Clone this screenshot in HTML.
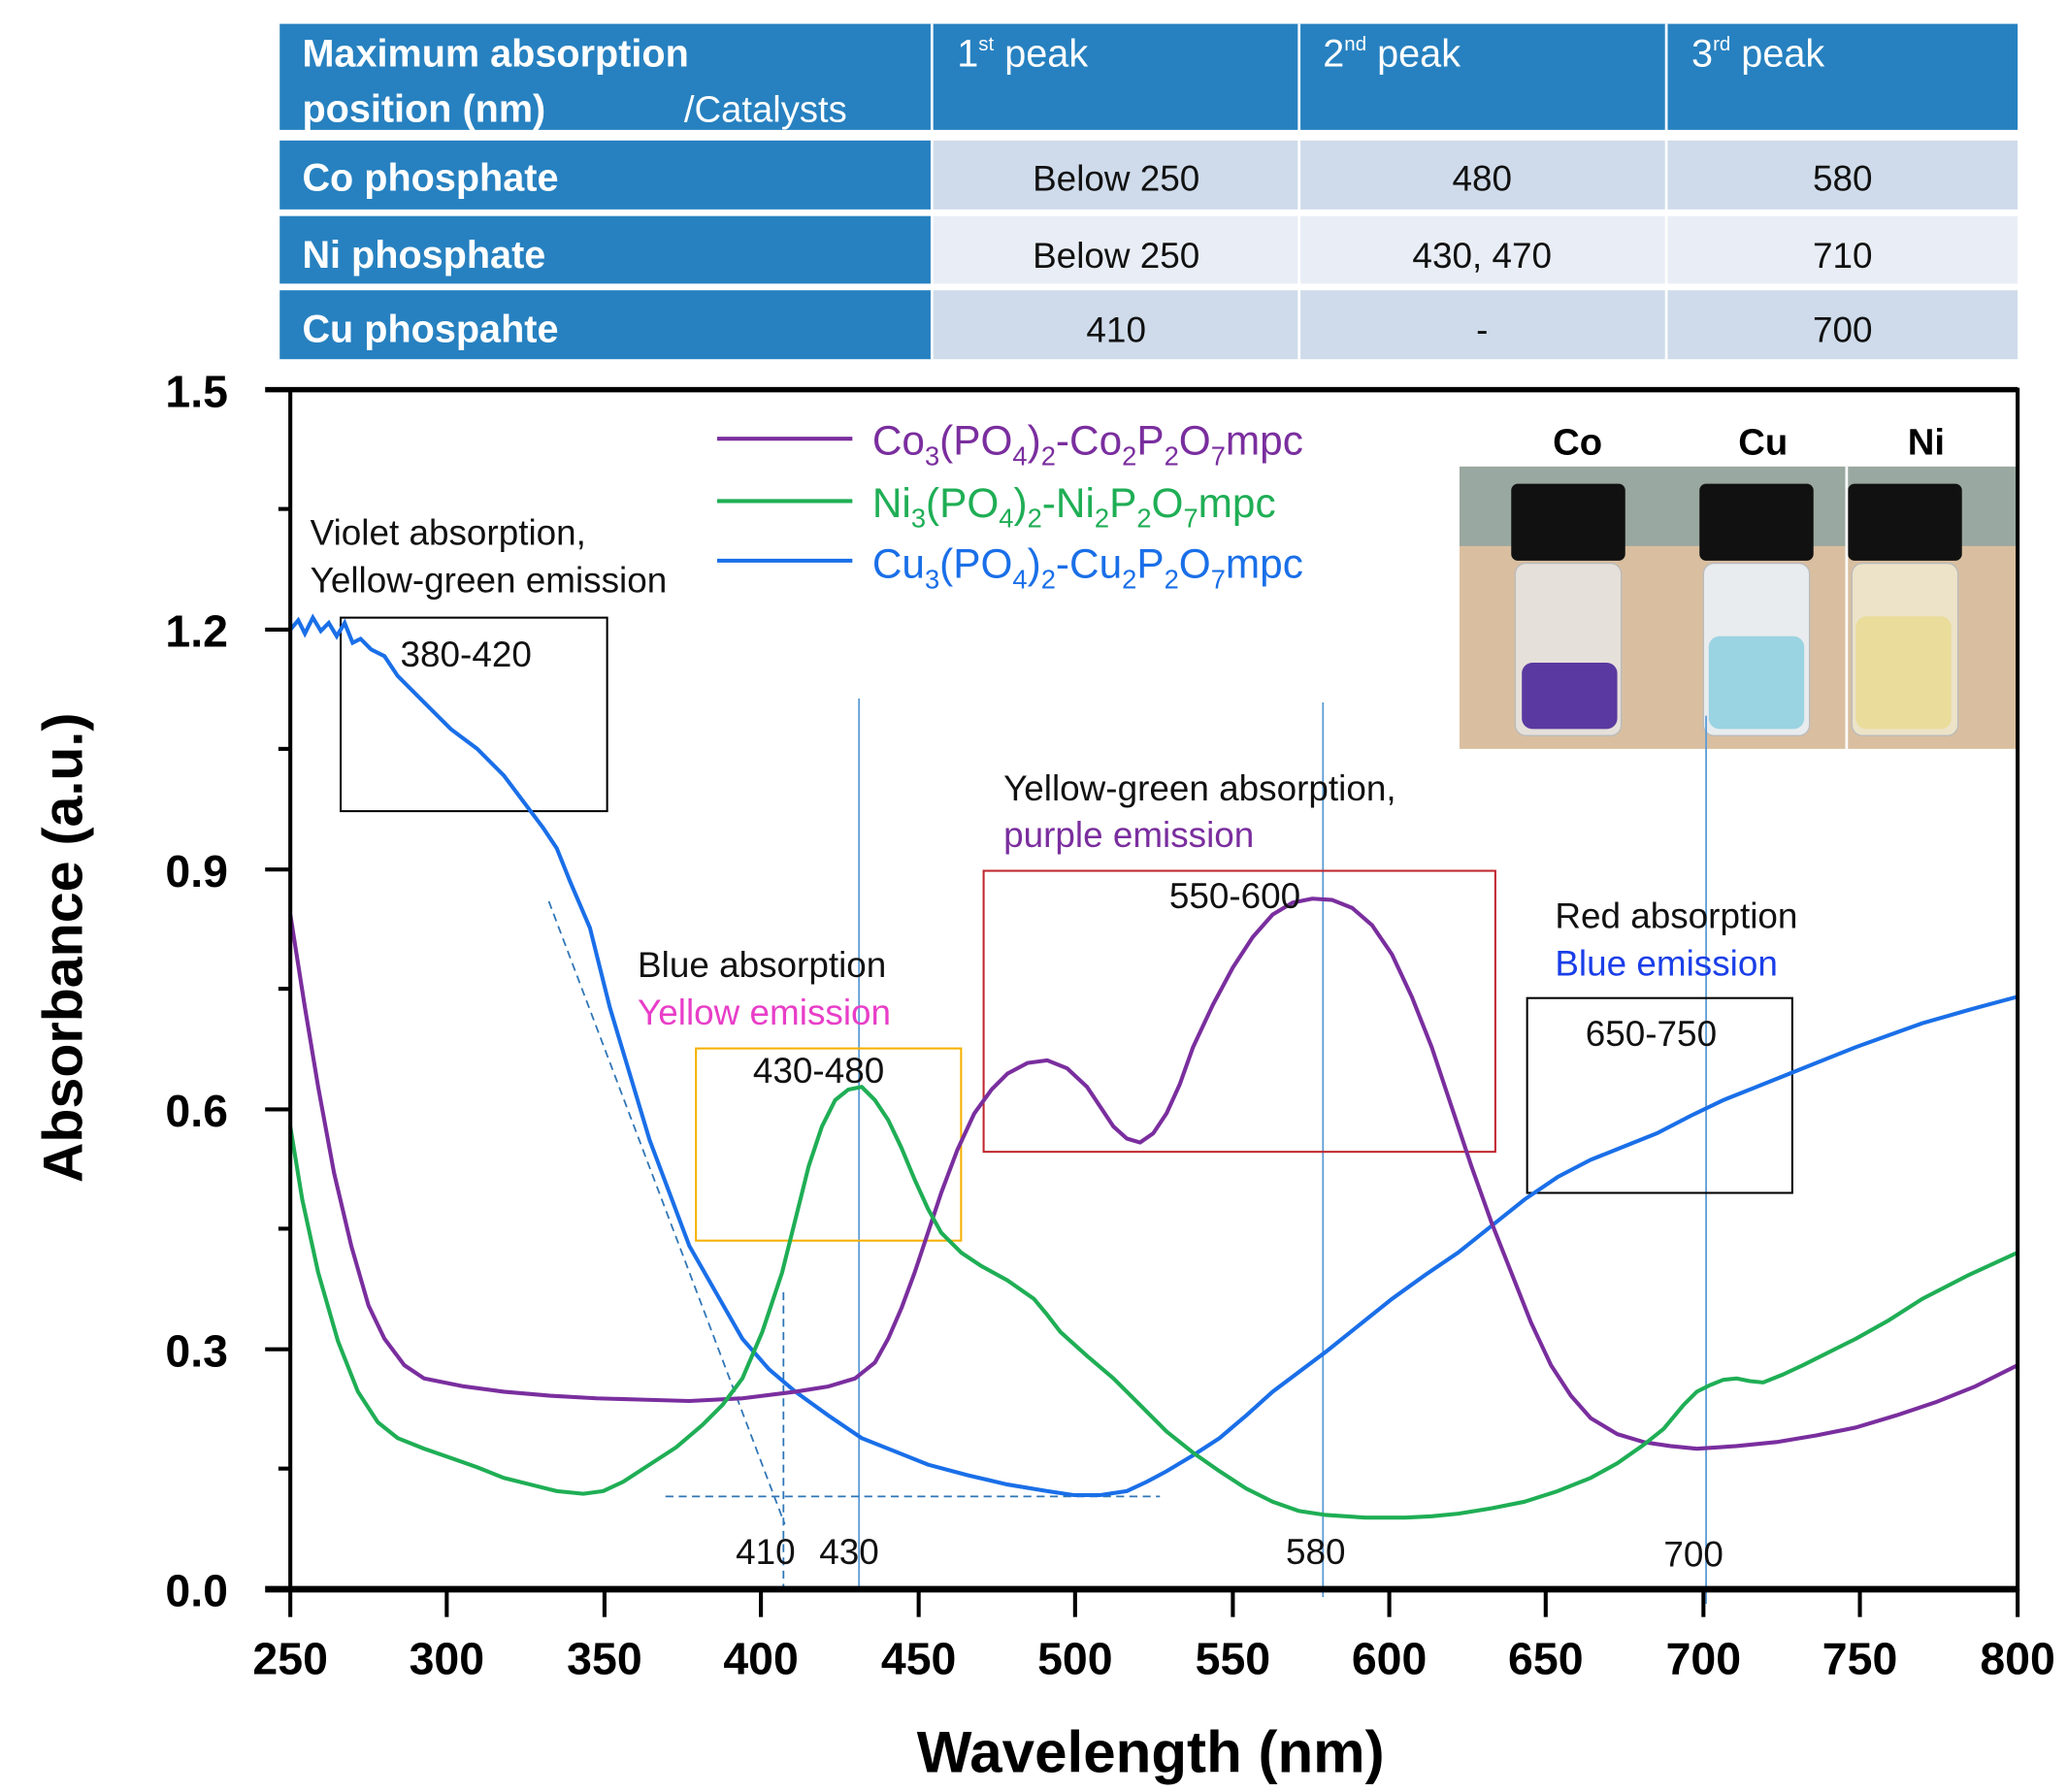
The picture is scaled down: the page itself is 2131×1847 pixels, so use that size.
<!DOCTYPE html>
<html><head><meta charset="utf-8"><style>
html,body{margin:0;padding:0;background:#fff;}
svg{display:block;}
text{font-family:"Liberation Sans",sans-serif;}
</style></head><body>
<svg width="2131" height="1847" viewBox="0 0 1560 1352" preserveAspectRatio="none" xmlns="http://www.w3.org/2000/svg">
<!-- table -->
<rect x="211" y="18" width="1311" height="80" fill="#2781c0"/>
<rect x="211" y="106" width="492" height="52" fill="#2781c0"/>
<rect x="211" y="163" width="492" height="51" fill="#2781c0"/>
<rect x="211" y="219" width="492" height="52" fill="#2781c0"/>
<rect x="703" y="106" width="819" height="52" fill="#cfdbea"/>
<rect x="703" y="163" width="819" height="51" fill="#e9eef6"/>
<rect x="703" y="219" width="819" height="52" fill="#cfdbea"/>
<g stroke="#fff" stroke-width="2"><line x1="703" y1="18" x2="703" y2="271"/><line x1="980" y1="18" x2="980" y2="271"/><line x1="1257" y1="18" x2="1257" y2="271"/></g>
<g fill="#fff" font-weight="bold" font-size="29">
<text x="228" y="50">Maximum absorption</text>
<text x="228" y="92">position (nm)</text><text x="516" y="92" font-weight="normal" font-size="28">/Catalysts</text>
<text x="722" y="50" font-weight="normal">1<tspan font-size="15" dy="-12">st</tspan><tspan dy="12"> peak</tspan></text>
<text x="998" y="50" font-weight="normal">2<tspan font-size="15" dy="-12">nd</tspan><tspan dy="12"> peak</tspan></text>
<text x="1276" y="50" font-weight="normal">3<tspan font-size="15" dy="-12">rd</tspan><tspan dy="12"> peak</tspan></text>
<text x="228" y="144">Co phosphate</text>
<text x="228" y="202">Ni phosphate</text>
<text x="228" y="258">Cu phospahte</text>
</g>
<g fill="#111" font-size="27" text-anchor="middle">
<text x="842" y="144">Below 250</text><text x="1118" y="144">480</text><text x="1390" y="144">580</text>
<text x="842" y="202">Below 250</text><text x="1118" y="202">430, 470</text><text x="1390" y="202">710</text>
<text x="842" y="258">410</text><text x="1118" y="258">-</text><text x="1390" y="258">700</text>
</g>
<!-- photo -->
<rect x="1101" y="352" width="421" height="213" fill="#d9bfa0"/>
<rect x="1101" y="352" width="421" height="60" fill="#6e9aa0" opacity="0.6"/>
<g>
<rect x="1143" y="425" width="80" height="130" rx="8" fill="#e6e0da" stroke="#bbb"/>
<rect x="1140" y="365" width="86" height="58" rx="5" fill="#111"/>
<rect x="1148" y="500" width="72" height="50" rx="8" fill="#5a3aa0"/>
<rect x="1285" y="425" width="80" height="130" rx="8" fill="#e8ecee" stroke="#bbb"/>
<rect x="1282" y="365" width="86" height="58" rx="5" fill="#111"/>
<rect x="1289" y="480" width="72" height="70" rx="8" fill="#9ad3e2"/>
<rect x="1397" y="425" width="80" height="130" rx="8" fill="#ece3c8" stroke="#bbb"/>
<rect x="1394" y="365" width="86" height="58" rx="5" fill="#111"/>
<rect x="1400" y="465" width="72" height="85" rx="8" fill="#eadc9a"/>
<line x1="1393" y1="352" x2="1393" y2="565" stroke="#fff" stroke-width="2"/>
</g>
<g font-weight="bold" font-size="28" fill="#000" text-anchor="middle"><text x="1190" y="343">Co</text><text x="1330" y="343">Cu</text><text x="1453" y="343">Ni</text></g>
<!-- vertical guide lines -->
<g stroke="#5b9bd5" stroke-width="1.3"><line x1="648" y1="527" x2="648" y2="1199"/><line x1="998" y1="530" x2="998" y2="1205"/><line x1="1287" y1="540" x2="1287" y2="1210"/></g>
<g stroke="#2e75b6" stroke-width="1.3" stroke-dasharray="6,4" fill="none"><line x1="591" y1="975" x2="591" y2="1205"/><line x1="502" y1="1129" x2="875" y2="1129"/><line x1="414" y1="680" x2="592" y2="1150"/></g>
<!-- boxes -->
<rect x="257" y="466" width="201" height="146" fill="none" stroke="#000" stroke-width="1.5"/>
<rect x="525" y="791" width="200" height="145" fill="none" stroke="#f5b000" stroke-width="1.5"/>
<rect x="742" y="657" width="386" height="212" fill="none" stroke="#c0262d" stroke-width="1.5"/>
<rect x="1152" y="753" width="200" height="147" fill="none" stroke="#000" stroke-width="1.5"/>
<!-- curves -->
<polyline fill="none" stroke="#1a6fe8" stroke-width="3" points="219,475 225,468 230,478 236,466 242,476 248,470 254,480 260,470 266,485 272,482 280,490 290,495 300,510 320,530 340,550 360,565 380,585 395,605 410,625 420,640 430,665 445,700 460,760 475,810 490,860 505,900 520,940 540,975 560,1010 580,1033 600,1050 625,1068 650,1085 675,1095 700,1105 730,1113 760,1120 790,1125 810,1128 830,1128 850,1125 865,1118 880,1110 900,1098 920,1085 940,1068 960,1050 980,1035 1000,1020 1025,1000 1050,980 1075,962 1100,945 1125,925 1150,905 1175,888 1200,875 1225,865 1250,855 1275,842 1300,830 1325,820 1350,810 1375,800 1400,790 1425,781 1450,772 1485,762 1522,752"/>
<polyline fill="none" stroke="#7a2e9e" stroke-width="3" stroke-linejoin="round" points="219,690 230,760 240,820 252,885 265,940 278,985 290,1010 305,1030 320,1040 350,1046 380,1050 415,1053 450,1055 485,1056 520,1057 560,1055 600,1050 625,1046 645,1040 660,1028 670,1010 680,987 690,960 700,930 710,900 722,868 735,840 748,822 760,810 775,802 790,800 805,806 820,820 830,835 840,850 850,859 860,862 870,855 880,840 890,818 900,790 915,758 930,730 945,707 960,690 975,681 990,678 1005,679 1020,685 1035,698 1050,720 1065,752 1080,790 1095,835 1110,880 1125,922 1140,960 1155,998 1170,1030 1185,1053 1200,1070 1220,1082 1240,1088 1260,1091 1280,1093 1310,1091 1340,1088 1370,1083 1400,1077 1430,1068 1460,1058 1490,1046 1522,1030"/>
<polyline fill="none" stroke="#1fae55" stroke-width="3" stroke-linejoin="round" points="219,850 228,905 240,960 255,1012 270,1050 285,1073 300,1085 320,1093 340,1100 360,1107 380,1115 400,1120 420,1125 440,1127 455,1125 470,1118 490,1105 510,1092 530,1075 545,1060 560,1040 575,1005 590,960 600,920 610,880 620,850 630,830 640,822 650,820 660,830 670,845 680,866 690,890 700,912 710,930 725,945 740,955 760,966 780,980 790,992 800,1005 820,1023 840,1040 860,1060 880,1080 900,1096 920,1110 940,1123 960,1133 980,1140 1000,1143 1030,1145 1060,1145 1080,1144 1100,1142 1125,1138 1150,1133 1175,1125 1200,1115 1220,1104 1240,1090 1255,1078 1270,1060 1280,1050 1290,1045 1300,1041 1310,1040 1320,1042 1330,1043 1345,1037 1360,1030 1380,1020 1400,1010 1425,996 1450,980 1485,962 1522,945"/>
<!-- legend -->
<g stroke-width="3"><line x1="541" y1="331" x2="643" y2="331" stroke="#7a2e9e"/><line x1="541" y1="378" x2="643" y2="378" stroke="#1fae55"/><line x1="541" y1="423" x2="643" y2="423" stroke="#1a6fe8"/></g>
<g font-size="31">
<text x="658" y="343" fill="#7a2e9e">Co<tspan font-size="20" dy="8">3</tspan><tspan dy="-8">(PO</tspan><tspan font-size="20" dy="8">4</tspan><tspan dy="-8">)</tspan><tspan font-size="20" dy="8">2</tspan><tspan dy="-8">-Co</tspan><tspan font-size="20" dy="8">2</tspan><tspan dy="-8">P</tspan><tspan font-size="20" dy="8">2</tspan><tspan dy="-8">O</tspan><tspan font-size="20" dy="8">7</tspan><tspan dy="-8">mpc</tspan></text>
<text x="658" y="390" fill="#1fae55">Ni<tspan font-size="20" dy="8">3</tspan><tspan dy="-8">(PO</tspan><tspan font-size="20" dy="8">4</tspan><tspan dy="-8">)</tspan><tspan font-size="20" dy="8">2</tspan><tspan dy="-8">-Ni</tspan><tspan font-size="20" dy="8">2</tspan><tspan dy="-8">P</tspan><tspan font-size="20" dy="8">2</tspan><tspan dy="-8">O</tspan><tspan font-size="20" dy="8">7</tspan><tspan dy="-8">mpc</tspan></text>
<text x="658" y="436" fill="#1a6fe8">Cu<tspan font-size="20" dy="8">3</tspan><tspan dy="-8">(PO</tspan><tspan font-size="20" dy="8">4</tspan><tspan dy="-8">)</tspan><tspan font-size="20" dy="8">2</tspan><tspan dy="-8">-Cu</tspan><tspan font-size="20" dy="8">2</tspan><tspan dy="-8">P</tspan><tspan font-size="20" dy="8">2</tspan><tspan dy="-8">O</tspan><tspan font-size="20" dy="8">7</tspan><tspan dy="-8">mpc</tspan></text>
</g>
<!-- annotations -->
<g font-size="27" fill="#111">
<text x="234" y="411">Violet absorption,</text><text x="234" y="447">Yellow-green emission</text>
<text x="302" y="503">380-420</text>
<text x="481" y="737">Blue absorption</text><text x="481" y="773" fill="#e83ec8">Yellow emission</text>
<text x="568" y="817">430-480</text>
<text x="757" y="604">Yellow-green absorption,</text><text x="757" y="639" fill="#7a2e9e">purple emission</text>
<text x="882" y="685">550-600</text>
<text x="1173" y="700">Red absorption</text><text x="1173" y="736" fill="#1a3ee8">Blue emission</text>
<text x="1196" y="789">650-750</text>
<text x="555" y="1180">410</text><text x="618" y="1180">430</text><text x="970" y="1180">580</text><text x="1255" y="1182">700</text>
</g>
<!-- axes -->
<rect x="219" y="294" width="1303" height="905" fill="none" stroke="#000" stroke-width="3"/>
<line x1="200" y1="1199" x2="1522" y2="1199" stroke="#000" stroke-width="5"/>
<line x1="200" y1="294" x2="1522" y2="294" stroke="#000" stroke-width="4"/>
<g stroke="#000" stroke-width="3">
<line x1="219" y1="1199" x2="219" y2="1220"/><line x1="337" y1="1199" x2="337" y2="1220"/><line x1="456" y1="1199" x2="456" y2="1220"/><line x1="574" y1="1199" x2="574" y2="1220"/><line x1="693" y1="1199" x2="693" y2="1220"/><line x1="811" y1="1199" x2="811" y2="1220"/><line x1="930" y1="1199" x2="930" y2="1220"/><line x1="1048" y1="1199" x2="1048" y2="1220"/><line x1="1166" y1="1199" x2="1166" y2="1220"/><line x1="1285" y1="1199" x2="1285" y2="1220"/><line x1="1403" y1="1199" x2="1403" y2="1220"/><line x1="1522" y1="1199" x2="1522" y2="1220"/>
<line x1="200" y1="1018" x2="219" y2="1018"/><line x1="200" y1="837" x2="219" y2="837"/><line x1="200" y1="656" x2="219" y2="656"/><line x1="200" y1="475" x2="219" y2="475"/>
<line x1="210" y1="1108" x2="219" y2="1108"/><line x1="210" y1="927" x2="219" y2="927"/><line x1="210" y1="746" x2="219" y2="746"/><line x1="210" y1="565" x2="219" y2="565"/><line x1="210" y1="384" x2="219" y2="384"/>
</g>
<g font-size="34" font-weight="bold" fill="#000" text-anchor="middle">
<text x="219" y="1263">250</text><text x="337" y="1263">300</text><text x="456" y="1263">350</text><text x="574" y="1263">400</text><text x="693" y="1263">450</text><text x="811" y="1263">500</text><text x="930" y="1263">550</text><text x="1048" y="1263">600</text><text x="1166" y="1263">650</text><text x="1285" y="1263">700</text><text x="1403" y="1263">750</text><text x="1522" y="1263">800</text>
</g>
<g font-size="34" font-weight="bold" fill="#000" text-anchor="end">
<text x="172" y="1212">0.0</text><text x="172" y="1031">0.3</text><text x="172" y="850">0.6</text><text x="172" y="669">0.9</text><text x="172" y="488">1.2</text><text x="172" y="307">1.5</text>
</g>
<text x="868" y="1337" font-size="44" font-weight="bold" text-anchor="middle">Wavelength (nm)</text>
<text transform="translate(62,715) rotate(-90)" font-size="42" font-weight="bold" text-anchor="middle">Absorbance (a.u.)</text>
</svg>
</body></html>
